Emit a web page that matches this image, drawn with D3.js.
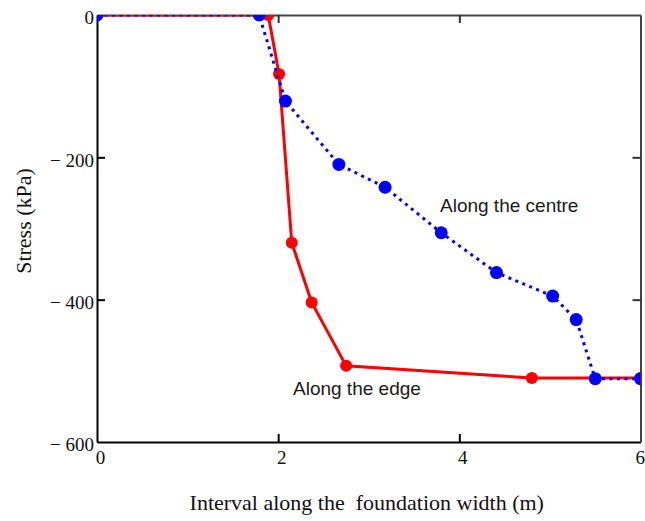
<!DOCTYPE html>
<html>
<head>
<meta charset="utf-8">
<script src="https://cdn.jsdelivr.net/npm/d3@7"></script>
<style>
  html, body { margin: 0; padding: 0; background: #fff; }
  svg { display: block; }
</style>
</head>
<body>
<svg id="chart" width="645" height="521"></svg>
<script>
// ---- data ----
const edgeX   = [0, 1.89, 2.01, 2.15, 2.37, 2.75, 4.80, 6.0];
const edgeY   = [0, 0, -83, -320, -404, -493, -510, -510];
const centreX = [0, 1.79, 2.08, 2.67, 3.18, 3.80, 4.41, 5.03, 5.29, 5.50, 6.0];
const centreY = [0, 0, -121, -210, -242, -306, -362, -395, -428, -511, -511];
const xTicks = [0, 2, 4, 6];
const yTicks = [0, -200, -400, -600];
const xTitle = "Interval along the\u00a0 foundation width (m)";
const yTitle = "Stress (kPa)";
const edgeLabel = "Along the edge";
const centreLabel = "Along the centre";

// ---- layout ----
const L = 97, R = 640.5, T = 15, B = 442;
const svg = d3.select("#chart");
const x = d3.scaleLinear().domain([0, 6]).range([L, R]);
const y = d3.scaleLinear().domain([-600, 0]).range([B, T]);

svg.append("defs").append("clipPath").attr("id", "clip")
  .append("rect").attr("x", L).attr("y", T).attr("width", R - L).attr("height", B - T);

const fmtY = d => d < 0 ? "\u2212 " + (-d) : String(d);
const serif = "'Liberation Serif','Times New Roman',serif";

// bottom axis
const gB = svg.append("g").attr("transform", `translate(0,${B})`)
  .call(d3.axisBottom(x).tickValues(xTicks).tickSizeInner(-8).tickSizeOuter(0).tickPadding(9).tickFormat(d3.format("d")));
// left axis
const gL = svg.append("g").attr("transform", `translate(${L},0)`)
  .call(d3.axisLeft(y).tickValues(yTicks).tickSizeInner(-8).tickSizeOuter(0).tickPadding(3).tickFormat(fmtY));
// top axis (no labels)
const gT = svg.append("g").attr("transform", `translate(0,${T})`)
  .call(d3.axisTop(x).tickValues(xTicks.filter(d => d > 0 && d < 6)).tickSizeInner(-8).tickSizeOuter(0).tickFormat(""));
// right axis (no labels)
const gR = svg.append("g").attr("transform", `translate(${R},0)`)
  .call(d3.axisRight(y).tickValues(yTicks.filter(d => d > -600 && d < 0)).tickSizeInner(-8).tickSizeOuter(0).tickFormat(""));

[gB, gL].forEach(g => {
  g.select(".domain").attr("stroke", "#000").attr("stroke-width", 2);
  g.selectAll(".tick line").attr("stroke", "#000").attr("stroke-width", 2);
  g.selectAll(".tick text").attr("fill", "#111").style("font-family", serif).style("font-size", "19px");
});
[gT, gR].forEach(g => {
  g.select(".domain").attr("stroke", "#444").attr("stroke-width", 2);
  g.selectAll(".tick line").attr("stroke", "#333").attr("stroke-width", 2);
});
gB.selectAll(".tick line").filter(d => d === 0 || d === 6).remove();
gL.selectAll(".tick line").filter(d => d === 0 || d === -600).remove();
gB.selectAll(".tick text").attr("dx", 3);
gB.selectAll(".tick text").filter(d => d === 6).attr("text-anchor", "end").attr("dx", 4);
gL.selectAll(".tick text").attr("dy", "0.46em");

// ---- series ----
const plot = svg.append("g").attr("clip-path", "url(#clip)");
const edge = edgeX.map((v, i) => [v, edgeY[i]]);
const centre = centreX.map((v, i) => [v, centreY[i]]);
const line = d3.line().x(d => x(d[0])).y(d => y(d[1]));

plot.append("path").datum(edge).attr("d", line)
  .attr("fill", "none").attr("stroke", "#ff0000").attr("stroke-width", 3);
plot.selectAll(".pe").data(edge).join("circle")
  .attr("cx", d => x(d[0])).attr("cy", d => y(d[1])).attr("r", 6).attr("fill", "#ff0000");

plot.append("path").datum(centre).attr("d", line)
  .attr("fill", "none").attr("stroke", "#0000ff").attr("stroke-width", 3)
  .attr("stroke-dasharray", "3 4.5");
plot.selectAll(".pc").data(centre).join("circle")
  .attr("cx", d => x(d[0])).attr("cy", d => y(d[1])).attr("r", 6.5).attr("fill", "#0000ff");

// ---- annotations ----
const sans = "'Liberation Sans',Arial,sans-serif";
svg.append("text").attr("x", 293).attr("y", 395).text(edgeLabel)
  .style("font-family", sans).style("font-size", "19px").attr("fill", "#1a1a1a");
svg.append("text").attr("x", 440).attr("y", 212).text(centreLabel)
  .style("font-family", sans).style("font-size", "19px").attr("fill", "#1a1a1a");

// ---- titles ----
svg.append("text").attr("x", (L + R) / 2 - 2).attr("y", 510).attr("text-anchor", "middle")
  .text(xTitle).style("font-family", serif).style("font-size", "22px").attr("fill", "#111");
svg.append("text").attr("transform", "translate(31,221) rotate(-90)").attr("text-anchor", "middle")
  .text(yTitle).style("font-family", serif).style("font-size", "22px").attr("fill", "#111");
</script>
</body>
</html>
